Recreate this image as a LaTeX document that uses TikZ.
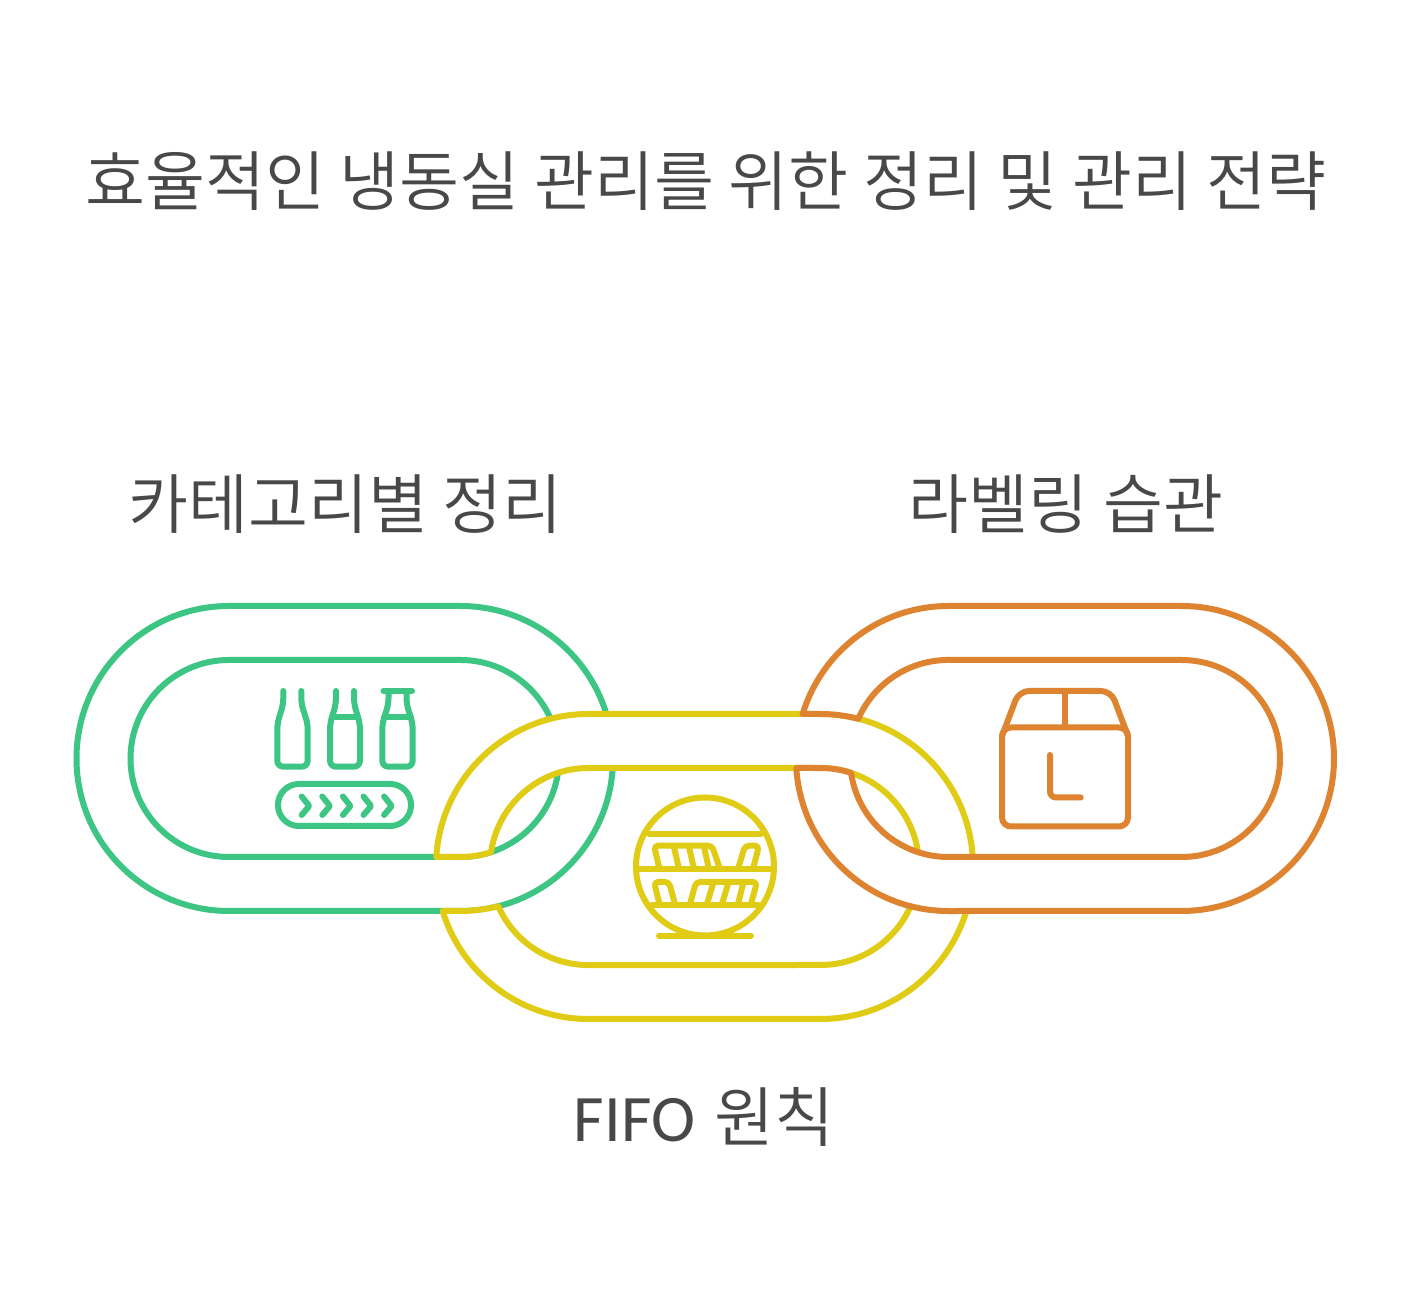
\documentclass[tikz,border=0pt]{standalone}
\usepackage{fontspec}
\newfontfamily\kr{Noto Sans CJK KR DemiLight}
\newfontfamily\lat{Carlito}
\definecolor{cgreen}{HTML}{3CC583}
\definecolor{cyellow}{HTML}{E0CB15}
\definecolor{corange}{HTML}{DE8431}
\definecolor{ctext}{HTML}{484848}
\def\Ro{152.5}
\def\Ri{98.5}
\tikzset{
  ring/.style={line width=3pt,line join=round,fill=white},
  ringopen/.style={line width=3pt},
  icon/.style={line width=3pt,line join=round,line cap=round,rounded corners=3pt},
  label/.style={font=\kr,text=ctext,inner sep=0pt,anchor=center},
}
\begin{document}
\begin{tikzpicture}[x=0.5pt,y=0.5pt]
\useasboundingbox[fill=white] (0,0) rectangle (1410,1302);
% titles
\node[label,font=\kr\fontsize{32.6pt}{36pt}\selectfont] (title) at (706,1121) {효율적인 냉동실 관리를 위한 정리 및 관리 전략};
\node[label,font=\kr\fontsize{32.6pt}{36pt}\selectfont] (lgreen) at (345.5,797.5) {카테고리별 정리};
\node[label,font=\kr\fontsize{32.6pt}{36pt}\selectfont] (lorange) at (1066,797.5) {라벨링 습관};
\node[label,font=\kr\fontsize{32.6pt}{36pt}\selectfont] (lyellow) at (704,185) {{\lat\fontsize{33.2pt}{36pt}\selectfont FIFO}\kern2.2pt{} 원칙};
% green ring
\draw[ringopen,cgreen] (229,696) -- (460.5,696) arc[start angle=90,end angle=-90,radius=\Ro] -- (229,391) arc[start angle=270,end angle=90,radius=\Ro] -- cycle;
\draw[ringopen,cgreen] (229,642) -- (460.5,642) arc[start angle=90,end angle=-90,radius=\Ri] -- (229,445) arc[start angle=270,end angle=90,radius=\Ri] -- cycle;
% yellow link
\draw[ring,draw=cyellow]
  (436.3,445) arc[start angle=176.43,end angle=90,radius=\Ro]
  -- (820.5,588) arc[start angle=90,end angle=-90,radius=\Ro]
  -- (588.5,283) arc[start angle=270,end angle=196.96,radius=\Ro]
  -- (460.5,391) arc[start angle=-90,end angle=-75.65,radius=\Ro]
  arc[start angle=203.76,end angle=270,radius=\Ri]
  -- (820.5,337) arc[start angle=-90,end angle=90,radius=\Ri]
  -- (588.5,534) arc[start angle=90,end angle=171.6,radius=\Ri]
  arc[start angle=-71.9,end angle=-90,radius=\Ri]
  -- cycle;
% orange link
\draw[ring,draw=corange]
  (802.6,588) -- (820.5,588) arc[start angle=90,end angle=75.65,radius=\Ro]
  arc[start angle=156.24,end angle=90,radius=\Ri]
  -- (1181.5,642) arc[start angle=90,end angle=-90,radius=\Ri]
  -- (948.5,445) arc[start angle=270,end angle=188.4,radius=\Ri]
  arc[start angle=71.9,end angle=90,radius=\Ri]
  -- (796.3,534) arc[start angle=183.57,end angle=270,radius=\Ro]
  -- (1181.5,391) arc[start angle=-90,end angle=90,radius=\Ro]
  -- (948.5,696) arc[start angle=90,end angle=163.04,radius=\Ro]
  -- cycle;
% icons, in image coordinates
\begin{scope}[shift={(0,1302)},yscale=-1]
  % bottles
  \draw[icon,cgreen] (283.3,691) -- (283.3,704) -- (277.3,723.5) -- (277.3,766.7) -- (307.7,766.7) -- (307.7,723.5) -- (301.3,704) -- (301.3,691);
  \draw[icon,cgreen] (336,691) -- (336,704) -- (330,723.5) -- (330,766.7) -- (360,766.7) -- (360,723.5) -- (354,704) -- (354,691);
  \draw[icon,cgreen,rounded corners=0pt] (332.5,717.3) -- (357.5,717.3);
  \draw[icon,cgreen] (388.5,691) -- (388.5,704) -- (382.3,723.5) -- (382.3,766.7) -- (412.7,766.7) -- (412.7,723.5) -- (406.5,704) -- (406.5,691);
  \draw[icon,cgreen,rounded corners=0pt] (384,717.3) -- (411,717.3);
  \draw[icon,cgreen,rounded corners=0pt] (383.5,691) -- (412,691);
  \draw[icon,cgreen,rounded corners=10.4pt] (278,784) rectangle (411,826);
  \foreach \dx in {0,20.6,41.2,61.8,82.4}
    \draw[icon,cgreen,rounded corners=0.5pt] (301.7+\dx,796.5) -- (309.3+\dx,806) -- (301.7+\dx,815);
  % shelf
  \draw[cyellow,line width=3pt] (705,866.5) circle[radius=69];
  \draw[icon,cyellow,rounded corners=0pt] (649,833.7) -- (761,833.7);
  \draw[icon,cyellow,rounded corners=0pt] (638,869.3) -- (772,869.3);
  \draw[icon,cyellow,rounded corners=0pt] (652,905) -- (758,905);
  \draw[icon,cyellow,rounded corners=0pt] (659,935.7) -- (751,935.7);
  \draw[icon,cyellow,rounded corners=2pt] (659.5,869) -- (654,845.7) -- (712,845.7) -- (720,869);
  \draw[icon,cyellow,line cap=butt,rounded corners=0pt] (674,847) -- (679,869);
  \draw[icon,cyellow,line cap=butt,rounded corners=0pt] (689,847) -- (694,869);
  \draw[icon,cyellow,line cap=butt,rounded corners=0pt] (704,847) -- (709,869);
  \draw[icon,cyellow,rounded corners=2pt] (738,869) -- (745,845.7) -- (759,845.7) -- (753,869);
  \draw[icon,cyellow,rounded corners=2pt] (659.5,904) -- (654,882) -- (669,882) -- (675,904);
  \draw[icon,cyellow,rounded corners=2pt] (690,904) -- (696,882) -- (757,882) -- (751,904);
  \draw[icon,cyellow,line cap=butt,rounded corners=0pt] (707,904) -- (713,884);
  \draw[icon,cyellow,line cap=butt,rounded corners=0pt] (722,904) -- (728,884);
  \draw[icon,cyellow,line cap=butt,rounded corners=0pt] (738,904) -- (743,884);
  % box
  \draw[icon,corange,rounded corners=4.5pt] (1002,727.5) rectangle (1128,826.5);
  \draw[icon,corange,rounded corners=5pt] (1002,736) -- (1019,691) -- (1111,691) -- (1128,736);
  \draw[icon,corange,rounded corners=0pt] (1065,691) -- (1065,727);
  \draw[icon,corange,rounded corners=3pt] (1050,755) -- (1050,797.5) -- (1080.7,797.5);
\end{scope}
\end{tikzpicture}
\end{document}
